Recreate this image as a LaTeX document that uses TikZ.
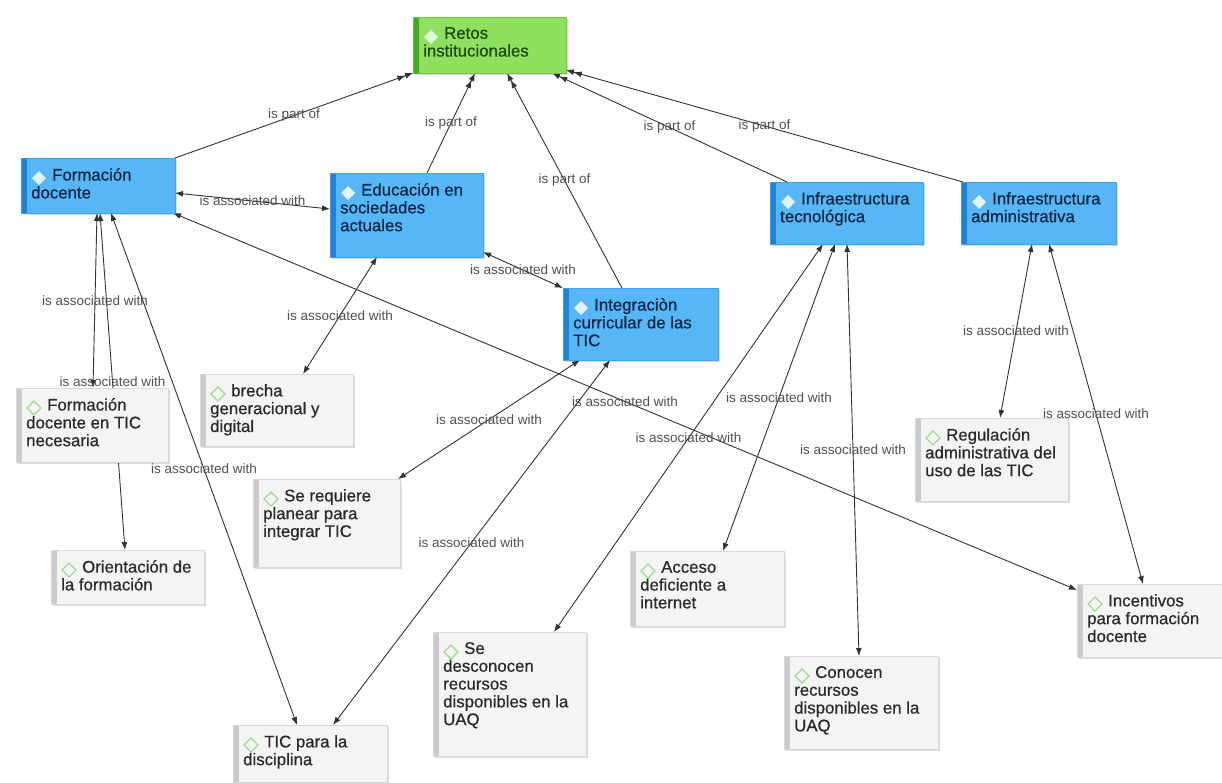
\documentclass[tikz,border=0pt]{standalone}
\usepackage{fontspec}
\setmainfont{Liberation Sans}
\newfontfamily\cardfont{Liberation Sans}[FakeBold=0.6]
\usetikzlibrary{arrows.meta,calc,shadows}

\definecolor{conceptfill}{HTML}{56B6F6}
\definecolor{conceptstrip}{HTML}{1F80D8}
\definecolor{conceptedge}{HTML}{40A2EA}
\definecolor{conceptink}{HTML}{0E2744}
\definecolor{rootfill}{HTML}{8FE05E}
\definecolor{rootstrip}{HTML}{46A82A}
\definecolor{rootedge}{HTML}{6DC543}
\definecolor{rootink}{HTML}{1D4710}
\definecolor{quotefill}{HTML}{F4F4F4}
\definecolor{quotestrip}{HTML}{CBCBCB}
\definecolor{quoteedge}{HTML}{D9D9D9}
\definecolor{quoteink}{HTML}{2A2A2A}
\definecolor{linkink}{HTML}{333333}
\definecolor{labelink}{HTML}{505050}
\definecolor{gemgreen}{HTML}{9ED98E}

\pgfdeclarelayer{background}
\pgfsetlayers{background,main}

\tikzset{
  card/.style={draw=#1edge, fill=#1fill, line width=0.8pt, inner sep=0pt,
    anchor=north west,
    path picture={\fill[#1strip] (path picture bounding box.north west)
      rectangle ([xshift=6pt]path picture bounding box.south west);},
    drop shadow={shadow xshift=2pt, shadow yshift=-2pt, fill=black, opacity=0.14}},
  cardtext/.style={anchor=north west, inner sep=0pt, align=left, text=#1ink,
    font=\cardfont\fontsize{16.8}{17.8}\selectfont},
  gemconcept/.style={fill=white!82!conceptfill},
  gemroot/.style={fill=white!78!rootfill},
  gemquote/.style={draw=gemgreen, line width=1.1pt},
  partof/.style={draw=linkink, line width=0.9pt,
    -{Latex[length=8pt,width=6pt]Latex[length=8pt,width=6pt]}},
  assoc/.style={draw=linkink, line width=0.9pt,
    {Latex[length=8pt,width=6pt]}-{Latex[length=8pt,width=6pt]}},
  rel/.style={text=labelink, font=\fontsize{13.5}{14}\selectfont, inner sep=1pt}
}

% name, x, y, width, height, kind, text
\newcommand\cardnode[7]{%
  \node[card=#6, minimum width=#4pt, minimum height=#5pt] (#1) at (#2,#3) {};
  \node[cardtext=#6] (#1-txt) at ($(#1.north west)+(10,10)$) {\hspace*{21pt}#7};
  \path[gem#6] ($(#1.north west)+(18,20)$) +(-7,0) -- +(0,-7) -- +(7,0) -- +(0,7) -- cycle;
}

\begin{document}
\begin{tikzpicture}[x=1pt,y=-1pt]
\useasboundingbox (0,0) rectangle (1222,782);

% codes
\cardnode{R}{413}{17}{153}{56}{root}{Retos\\institucionales}
\cardnode{FD}{21}{158}{154}{55}{concept}{Formación\\docente}
\cardnode{ED}{330}{173}{153}{84}{concept}{Educación en\\sociedades\\actuales}
\cardnode{IC}{563}{288}{155}{72}{concept}{Integraciòn\\curricular de las\\TIC}
\cardnode{IT}{770}{182}{153}{62}{concept}{Infraestructura\\tecnológica}
\cardnode{IA}{961}{182}{155}{62}{concept}{Infraestructura\\administrativa}

% quotations
\cardnode{FT}{16}{388}{152}{74}{quote}{Formación\\docente en TIC\\necesaria}
\cardnode{BR}{200}{374}{153}{72}{quote}{brecha\\generacional y\\digital}
\cardnode{SR}{253}{479}{147}{88}{quote}{Se requiere\\planear para\\integrar TIC}
\cardnode{OR}{51}{550}{153}{54}{quote}{Orientación de\\la formación}
\cardnode{TD}{233}{725}{154}{57}{quote}{TIC para la\\disciplina}
\cardnode{SD}{433}{632}{153}{124}{quote}{Se\\desconocen\\recursos\\disponibles en la\\UAQ}
\cardnode{AC}{630}{551}{154}{75}{quote}{Acceso\\deficiente a\\internet}
\cardnode{CO}{784}{656}{154}{93}{quote}{Conocen\\recursos\\disponibles en la\\UAQ}
\cardnode{RE}{915}{418}{153}{83}{quote}{Regulación\\administrativa del\\uso de las TIC}
\cardnode{IN}{1077}{584}{145}{73}{quote}{Incentivos\\para formación\\docente}

\begin{pgfonlayer}{background}
\fill[white] (0,0) rectangle (1222,782);
% "is part of" links
\draw[partof] ($(FD.north west)+(154,0)$) -- node[rel]{is part of} ($(R.north west)+(0,56)$);
\draw[partof] ($(ED.north west)+(97,0)$) -- node[rel]{is part of} ($(R.north west)+(62,56)$);
\draw[partof] ($(IC.north west)+(59,0)$) -- node[rel]{is part of} ($(R.north west)+(94,56)$);
\draw[partof] ($(IT.north west)+(17,0)$) -- node[rel]{is part of} ($(R.north west)+(139,56)$);
\draw[partof] ($(IA.north west)+(2,0)$) -- node[rel]{is part of} ($(R.north west)+(153,53)$);

% "is associated with" links
\draw[assoc] ($(FD.north west)+(154,35)$) -- node[rel]{is associated with} ($(ED.north west)+(0,36)$);
\draw[assoc] ($(ED.north west)+(153,79)$) -- node[rel]{is associated with} ($(IC.north west)+(0,0)$);
\draw[assoc] ($(ED.north west)+(47,84)$) -- node[rel]{is associated with} ($(BR.north west)+(103,0)$);
\draw[assoc] ($(FD.north west)+(76,55)$) -- node[rel]{is associated with} ($(FT.north west)+(77,0)$);
\draw[assoc] ($(FD.north west)+(79,55)$) -- node[rel]{is associated with} ($(OR.north west)+(74,0)$);
\draw[assoc] ($(FD.north west)+(90,55)$) -- node[rel]{is associated with} ($(TD.north west)+(64,0)$);
\draw[assoc] ($(FD.north west)+(152,55)$) -- node[rel]{is associated with} ($(IN.north west)+(0,6)$);
\draw[assoc] ($(IC.north west)+(17,72)$) -- node[rel]{is associated with} ($(SR.north west)+(145,0)$);
\draw[assoc] ($(IC.north west)+(47,72)$) -- node[rel]{is associated with} ($(TD.north west)+(100,0)$);
\draw[assoc] ($(IT.north west)+(53,62)$) -- node[rel]{is associated with} ($(SD.north west)+(121,0)$);
\draw[assoc] ($(IT.north west)+(65,62)$) -- node[rel]{is associated with} ($(AC.north west)+(93,0)$);
\draw[assoc] ($(IT.north west)+(77,62)$) -- node[rel]{is associated with} ($(CO.north west)+(75,0)$);
\draw[assoc] ($(IA.north west)+(71,62)$) -- node[rel]{is associated with} ($(RE.north west)+(85,0)$);
\draw[assoc] ($(IA.north west)+(88,62)$) -- node[rel]{is associated with} ($(IN.north west)+(66,0)$);
\end{pgfonlayer}
\end{tikzpicture}
\end{document}
